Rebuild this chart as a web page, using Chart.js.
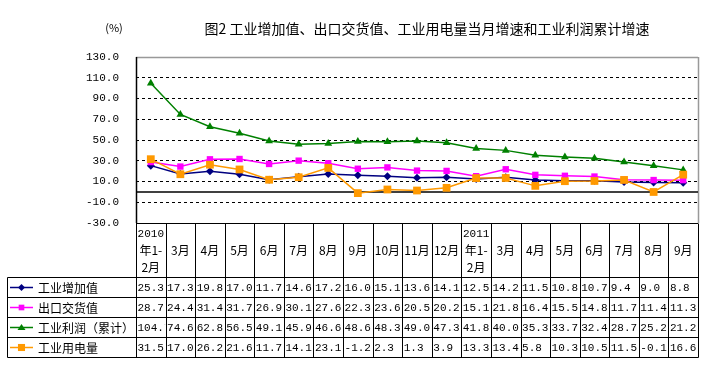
<!DOCTYPE html>
<html><head><meta charset="utf-8">
<script src="https://cdn.jsdelivr.net/npm/chart.js@4/dist/chart.umd.min.js"></script>
<style>html,body{margin:0;padding:0;background:#fff;}canvas{display:block;}</style>
</head><body>
<canvas id="c" width="711" height="372"></canvas>
<script>
const categories = [['2010','年1-','2月'],'3月','4月','5月','6月','7月','8月','9月','10月','11月','12月',['2011','年1-','2月'],'3月','4月','5月','6月','7月','8月','9月'];
const seriesNames = ['工业增加值','出口交货值','工业利润（累计）','工业用电量'];
const valueAdded     = [25.3,17.3,19.8,17.0,11.7,14.6,17.2,16.0,15.1,13.6,14.1,12.5,14.2,11.5,10.8,10.7,9.4,9.0,8.8];
const exportDelivery = [28.7,24.4,31.4,31.7,26.9,30.1,27.6,22.3,23.6,20.5,20.2,15.1,21.8,16.4,15.5,14.8,11.7,11.4,11.3];
const profit         = [104.7,74.6,62.8,56.5,49.1,45.9,46.6,48.6,48.3,49.0,47.3,41.8,40.0,35.3,33.7,32.4,28.7,25.2,21.2];
const electricity    = [31.5,17.0,26.2,21.6,11.7,14.1,23.1,-1.2,2.3,1.3,3.9,13.3,13.4,5.8,10.3,10.5,11.5,-0.1,16.6];
const yTicks = [-30,-10,10,30,50,70,90,110,130];
const titleText = '图2 工业增加值、出口交货值、工业用电量当月增速和工业利润累计增速';
const unitText = '(%)';

const FONT = '"Noto Sans CJK SC","Noto Sans",sans-serif';
const NUMFONT = '"Liberation Mono","DejaVu Sans Mono",monospace';
const colors = ['#000080','#FF00FF','#008000','#FF9900'];
const styles = ['rectRot','rect','triangle','rect'];
const radii = [4,4.5,4.5,5.5];
const seriesData = [valueAdded, exportDelivery, profit, electricity];

function drawMarker(ctx, style, x, y, r, color){
  ctx.save(); ctx.fillStyle=color; ctx.beginPath();
  if(style==='rect'){const s=r*Math.SQRT1_2; ctx.rect(x-s,y-s,2*s,2*s);}
  else if(style==='rectRot'){ctx.moveTo(x,y-r);ctx.lineTo(x+r,y);ctx.lineTo(x,y+r);ctx.lineTo(x-r,y);ctx.closePath();}
  else {const h=r*1.5; ctx.moveTo(x,y-h*0.6);ctx.lineTo(x+r,y+h*0.4);ctx.lineTo(x-r,y+h*0.4);ctx.closePath();}
  ctx.fill(); ctx.restore();
}
function hline(ctx,x1,x2,y){ctx.beginPath();ctx.moveTo(x1,y);ctx.lineTo(x2,y);ctx.stroke();}
function vline(ctx,x,y1,y2){ctx.beginPath();ctx.moveTo(x,y1);ctx.lineTo(x,y2);ctx.stroke();}

const framePlugin = {
  id:'frame',
  beforeDatasetsDraw(chart){
    const {ctx, chartArea:a, scales:{y}} = chart;
    ctx.save();
    ctx.strokeStyle='#999'; ctx.lineWidth=1.5;
    hline(ctx,a.left,a.right,Math.round(a.top)+0.5);
    vline(ctx,Math.round(a.right)+0.5,a.top,a.bottom);
    ctx.strokeStyle='#000'; ctx.lineWidth=1.5;
    const y0=y.getPixelForValue(0);
    hline(ctx,a.left,a.right,y0);
    vline(ctx,Math.round(a.left)+0.5,a.top,a.bottom);
    ctx.restore();
  },
  afterDraw(chart){
    const {ctx, chartArea:a, scales:{x}} = chart;
    const n = categories.length;
    const w = (x.right-x.left)/n;
    const top = Math.round(a.bottom)+0.5;
    const headBottom = top+54;
    const rowH = 20;
    const bottom = headBottom+rowH*4;
    const tableLeft = 7.5;
    ctx.save();
    ctx.strokeStyle='#000'; ctx.lineWidth=1;
    hline(ctx,x.left,x.right,top);
    for(let r=0;r<=4;r++) hline(ctx,tableLeft,Math.round(x.right)+0.5,headBottom+r*rowH);
    vline(ctx,tableLeft,headBottom,bottom);
    for(let k=0;k<=n;k++){
      const xx=Math.round(x.left+k*w)+0.5;
      vline(ctx,xx,top,bottom);
    }
    ctx.fillStyle='#000'; ctx.textAlign='center'; ctx.textBaseline='middle';
    const hc=(top+headBottom)/2;
    for(let k=0;k<n;k++){
      const cx=x.getPixelForValue(k);
      const lab=categories[k];
      if(Array.isArray(lab)){
        lab.forEach((t,i)=>{ctx.font=(i===0?'11px '+NUMFONT:'12px '+FONT);ctx.fillText(t,cx,hc+(i-1)*16.5);});
      } else {ctx.font='12px '+FONT; ctx.fillText(lab,cx,hc);}
    }
    ctx.textAlign='left';
    for(let s=0;s<4;s++){
      const cy=headBottom+rowH*s+rowH/2;
      ctx.save(); ctx.strokeStyle=colors[s]; ctx.lineWidth=1.5;
      hline(ctx,10,33,cy); ctx.restore();
      drawMarker(ctx,styles[s],21.5,cy,radii[s]-0.5,colors[s]);
      ctx.fillStyle='#000';
      ctx.font='12px '+FONT;
      ctx.fillText(seriesNames[s],38,cy+1);
      ctx.font='11px '+NUMFONT;
      for(let k=0;k<n;k++){
        const cl=x.left+k*w;
        ctx.save(); ctx.beginPath(); ctx.rect(cl+1,cy-9,w-1.5,18); ctx.clip();
        ctx.fillText(seriesData[s][k].toFixed(1),cl+1.5,cy+1);
        ctx.restore();
      }
    }
    ctx.textAlign='center';
    ctx.font='14px '+FONT;
    ctx.fillText(titleText,427,29);
    ctx.font='11px '+FONT;
    ctx.fillText(unitText,114,28);
    ctx.restore();
  }
};

const order = [3,2,1,0];
new Chart(document.getElementById('c'),{
  type:'line',
  data:{
    labels:categories,
    datasets:seriesNames.map((nm,i)=>({
      label:nm, data:seriesData[i], borderColor:colors[i], backgroundColor:colors[i],
      borderWidth:1.5, pointStyle:styles[i], pointRadius:radii[i], pointBorderWidth:0,
      pointBackgroundColor:colors[i], tension:0, order:order[i], clip:false
    }))
  },
  options:{
    responsive:false, animation:false,
    layout:{padding:{top:57,right:13,bottom:149,left:0}},
    plugins:{legend:{display:false},title:{display:false},tooltip:{enabled:false}},
    scales:{
      x:{type:'category',offset:true,grid:{display:false,drawTicks:false},ticks:{display:false},border:{display:false},
         afterFit(s){s.height=0;}},
      y:{min:-30,max:130,
         afterBuildTicks(s){s.ticks=yTicks.map(v=>({value:v}));},
         afterFit(s){s.width=136;},
         ticks:{padding:17,color:'#000',font:{family:NUMFONT,size:11},callback:v=>Number(v).toFixed(1)},
         grid:{drawTicks:false,lineWidth:1,color:c=>(c.tick&&(c.tick.value===-30||c.tick.value===130))?'rgba(0,0,0,0)':'#000'},
         border:{display:false,dash:[3,3]}}
    }
  },
  plugins:[framePlugin]
});
</script>
</body></html>
